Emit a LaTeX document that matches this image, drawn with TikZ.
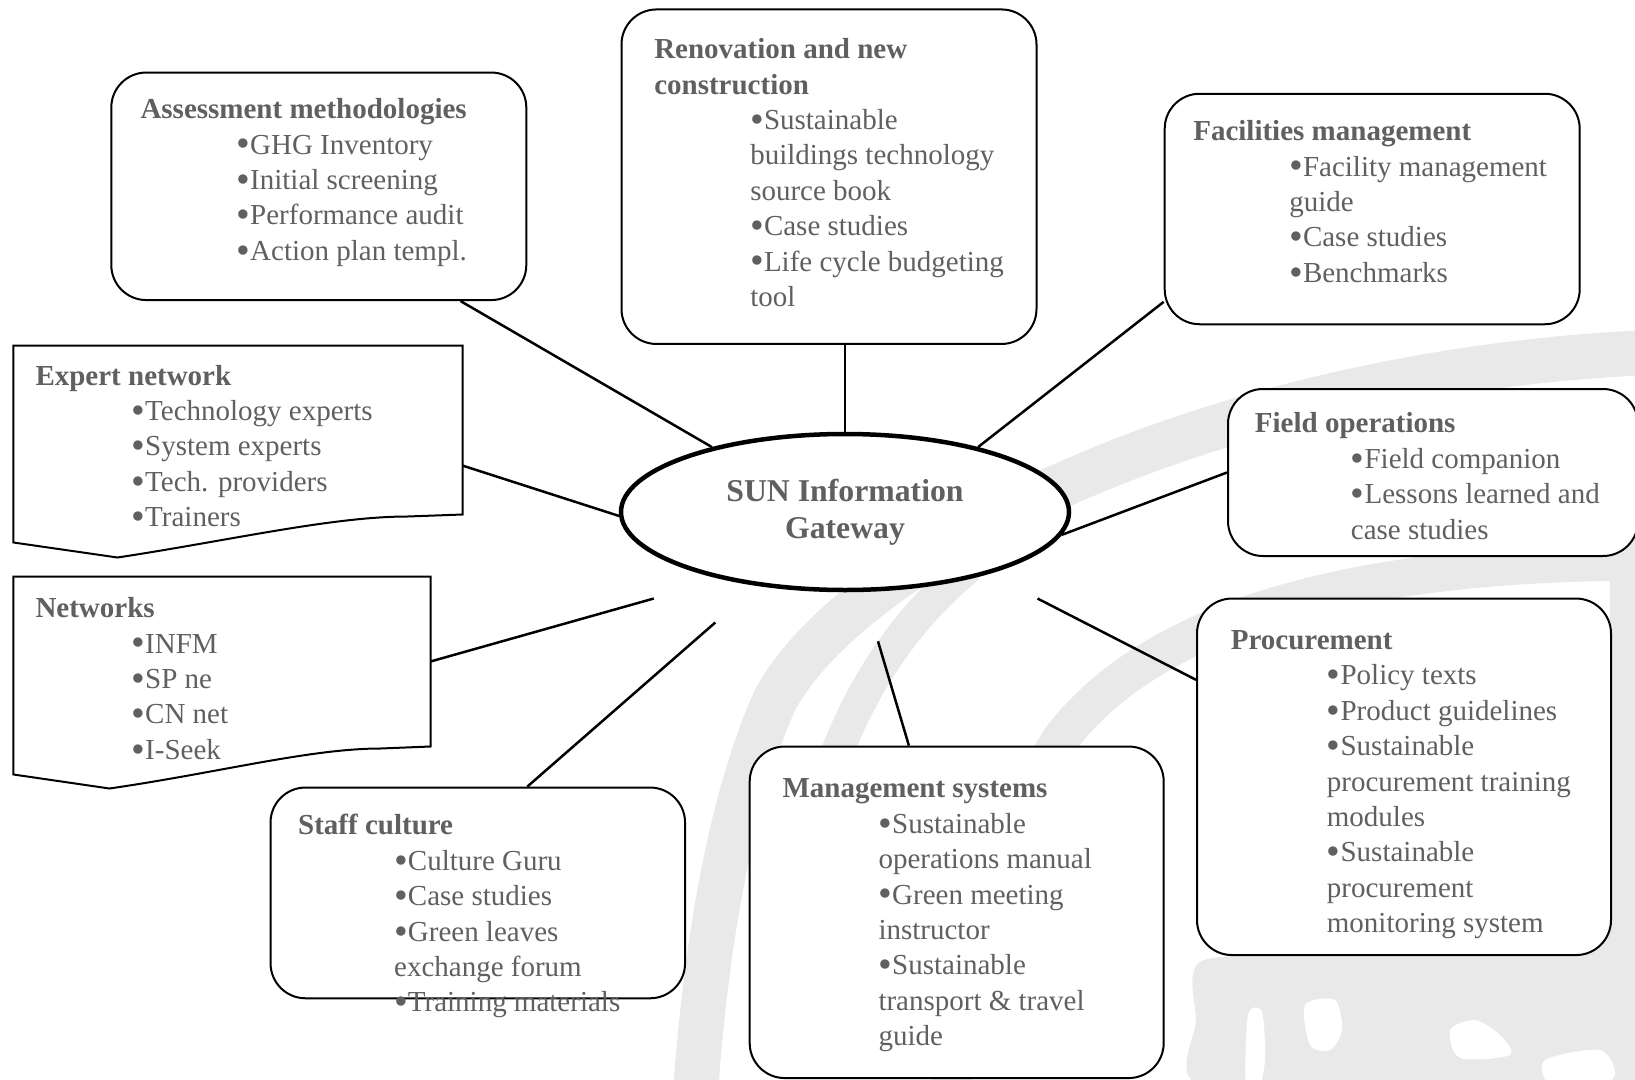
\documentclass[tikz,border=0pt]{standalone}
\usepackage{fontspec}
\setmainfont{Liberation Serif}
\usetikzlibrary{shapes,calc}
\definecolor{txtgray}{RGB}{96,96,96}
\definecolor{wmgray}{RGB}{233,233,233}
\newcommand{\ind}{\hspace*{38.4pt}}
\newcommand{\bul}{\raisebox{-0.1em}{\scalebox{1.35}{\textbullet}}}

\begin{document}
\begin{tikzpicture}[x=0.4pt,y=-0.4pt,
  box/.style={draw,line width=0.8pt,rounded corners=14pt,fill=white},
  docbox/.style={draw,line width=0.8pt,fill=white},
  txt/.style={anchor=north west,align=left,inner sep=0pt,text=txtgray,font=\fontsize{11.6}{14.16}\selectfont},
  link/.style={line width=1pt},
  wm/.style={draw=wmgray,line cap=round}]
\useasboundingbox (0,0) rectangle (1635,1080);

% watermark
\begin{scope}
\clip (0,0) rectangle (1635,1080);
\draw[wm,line width=18pt] (1660,352) .. controls (1200,370) and (850,560) .. (775,700)
  .. controls (730,800) and (705,950) .. (695,1100);
\draw[wm,line width=15pt] (1660,562) .. controls (1350,560) and (1150,620) .. (1060,740)
  .. controls (990,850) and (960,980) .. (950,1100);
\draw[wm,line width=13pt] (830,770) .. controls (860,690) and (900,625) .. (965,570);
\draw[wm,line width=12pt] (1625,540) -- (1625,960);
\fill[wmgray] plot[smooth cycle] coordinates {(1200,962) (1300,955) (1420,948) (1560,945) (1640,935)
  (1640,1085) (1400,1085) (1200,1085) (1196,1020)};
\fill[white] plot[smooth cycle] coordinates {(1305,1005) (1335,1000) (1342,1030) (1330,1050) (1310,1045)};
\fill[white] plot[smooth cycle] coordinates {(1450,1030) (1475,1020) (1500,1035) (1510,1055) (1460,1058)};
\fill[white] plot[smooth cycle] coordinates {(1545,1060) (1600,1050) (1615,1075) (1590,1090) (1550,1085)};
\fill[white] plot[smooth cycle] coordinates {(1248,1015) (1262,1012) (1265,1060) (1258,1090) (1246,1085)};
\end{scope}

% boxes
\node[box,minimum width=166pt,minimum height=91pt] (asm) at (318.8,186.3) {};
\node[box,minimum width=166pt,minimum height=133.8pt] (ren) at (829,176.7) {};
\node[box,minimum width=166pt,minimum height=92.2pt] (fac) at (1372.2,209) {};
\node[box,minimum width=164pt,minimum height=66.8pt] (fld) at (1433,472.5) {};
\node[box,minimum width=165.6pt,minimum height=142.6pt] (proc) at (1404,776.8) {};
\node[box,minimum width=165.6pt,minimum height=132.6pt] (mgmt) at (956.7,912.3) {};
\node[box,minimum width=165.8pt,minimum height=84.3pt] (staff) at (477.8,892.9) {};
\node[minimum width=179.2pt,minimum height=67.2pt] (exp) at (238,430) {};
\node[minimum width=166.4pt,minimum height=67.6pt] (net) at (222,661.5) {};
\draw[docbox] (exp.south east) -- (exp.north east) -- (exp.north west) -- ($(exp.south west)+(0,28)$)
  -- ($(exp.south west)+(104,43)$) .. controls ($(exp.south west)+(216,26)$) and ($(exp.south east)+(-130,2)$)
  .. ($(exp.south east)+(-55,2)$) -- cycle;
\draw[docbox] (net.south east) -- (net.north east) -- (net.north west) -- ($(net.south west)+(0,28)$)
  -- ($(net.south west)+(96,42)$) .. controls ($(net.south west)+(206,26)$) and ($(net.south east)+(-120,2)$)
  .. ($(net.south east)+(-50,2)$) -- cycle;
\node[ellipse,draw,line width=1.8pt,fill=white,minimum width=179.2pt,minimum height=62.4pt,
  align=center,text=txtgray,font=\fontsize{12.7}{14.8}\selectfont\bfseries] (sun) at (845,512)
  {SUN Information\\Gateway};

% texts
\node[txt] (asmtxt) at (140,98) {\textbf{Assessment methodologies}\\
  \ind\bul GHG Inventory\\ \ind\bul Initial screening\\
  \ind\bul Performance audit\\ \ind\bul Action plan templ.};
\node[txt] (rentxt) at (653.8,38) {\textbf{Renovation and new}\\ \textbf{construction}\\
  \ind\bul Sustainable\\ \ind buildings technology\\ \ind source book\\
  \ind\bul Case studies\\ \ind\bul Life cycle budgeting\\ \ind tool};
\node[txt] (factxt) at (1192.8,120) {\textbf{Facilities management}\\
  \ind\bul Facility management\\ \ind guide\\
  \ind\bul Case studies\\ \ind\bul Benchmarks};
\node[txt] (exptxt) at (35,364.5) {\textbf{Expert network}\\
  \ind\bul Technology experts\\ \ind\bul System experts\\
  \ind\bul Tech. providers\\ \ind\bul Trainers};
\node[txt] (nettxt) at (35,597) {\textbf{Networks}\\
  \ind\bul INFM\\ \ind\bul SP ne\\
  \ind\bul CN net\\ \ind\bul I-Seek};
\node[txt] (fldtxt) at (1254.4,412.3) {\textbf{Field operations}\\
  \ind\bul Field companion\\ \ind\bul Lessons learned and\\ \ind case studies};
\node[txt] (proctxt) at (1230.4,630) {\textbf{Procurement}\\
  \ind\bul Policy texts\\ \ind\bul Product guidelines\\
  \ind\bul Sustainable\\ \ind procurement training\\ \ind modules\\
  \ind\bul Sustainable\\ \ind procurement\\ \ind monitoring system};
\node[txt] (mgmttxt) at (782,778.3) {\textbf{Management systems}\\
  \ind\bul Sustainable\\ \ind operations manual\\
  \ind\bul Green meeting\\ \ind instructor\\
  \ind\bul Sustainable\\ \ind transport \& travel\\ \ind guide};
\node[txt] (stafftxt) at (297.7,814) {\textbf{Staff culture}\\
  \ind\bul Culture Guru\\ \ind\bul Case studies\\
  \ind\bul Green leaves\\ \ind exchange forum\\ \ind\bul Training materials};

% links
\coordinate (netend) at (653.8,598.5);
\coordinate (procend) at (1037.5,598.5);
\coordinate (staffend) at (715.3,622.5);
\coordinate (mgmtend) at (878,641.3);
\draw[link] (asm.-39) -- (sun.154);
\draw[link] (sun.north) -- (sun.north |- ren.south);
\draw[link] (fac.204.5) -- (sun.26);
\draw[link] (exp.-9.7) -- (sun.181);
\draw[link] (fld.west) -- (sun.-6);
\draw[link] (net.east) -- (netend);
\draw[link] (proc.155.6) -- (procend);
\draw[link] (staff.65.6) -- (staffend);
\draw[link] (mgmt.106) -- (mgmtend);
\end{tikzpicture}
\end{document}
